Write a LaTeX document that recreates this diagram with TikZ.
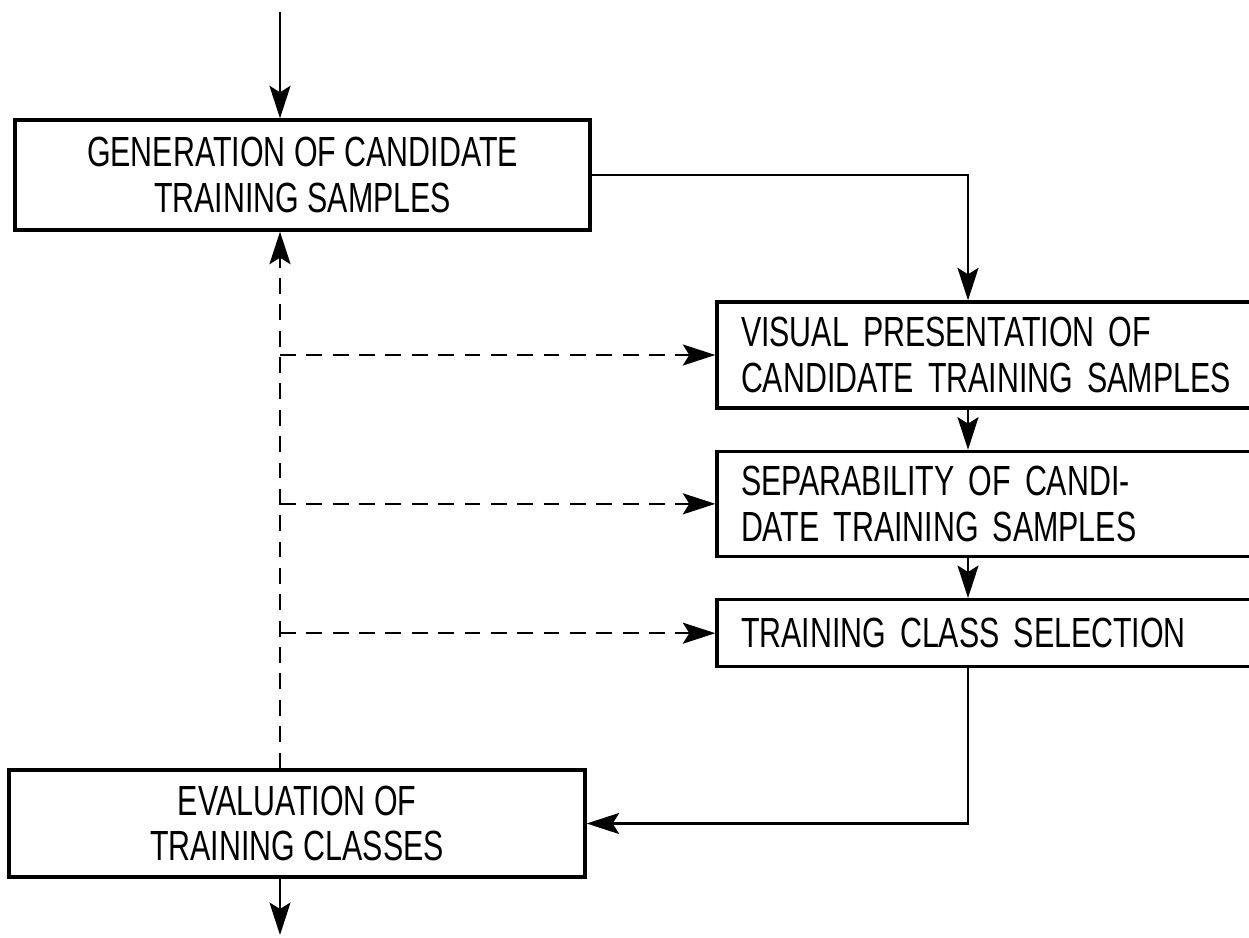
\documentclass[tikz,border=0pt]{standalone}
\usepackage{fontspec}
\setmainfont{Liberation Sans}[FakeStretch=0.72]
\usetikzlibrary{arrows.meta,positioning}

\begin{document}
\begin{tikzpicture}[->,>={Stealth[length=6.5mm,width=4.2mm,inset=1.3mm]},
                    node distance=0.8cm,line width=1.4pt,
                    font=\fontsize{24}{26}\selectfont]
  \tikzset{
    block/.style={draw,rectangle,line width=1.9pt,align=center,inner sep=0pt},
    sidebox/.style={block,text width=10.4cm,align=left,inner xsep=0.48cm},
    feedback/.style={dash pattern=on 9pt off 6pt}
  }
  \useasboundingbox (0,0) rectangle (24.98,-18.74);

  \node[block,minimum width=11.5cm,minimum height=2.2cm]  (gen)  at (6.05,-3.5)
        {GENERATION OF CANDIDATE\\TRAINING SAMPLES};
  \node[sidebox,minimum height=2.12cm] (vis)  at (20.02,-7.1)
        {VISUAL PRESENTATION OF\\CANDIDATE TRAINING SAMPLES};
  \node[sidebox,minimum height=2.1cm]  (sep)  [below=of vis]
        {SEPARABILITY OF CANDI-\\DATE TRAINING SAMPLES};
  \node[sidebox,minimum height=1.34cm] (sel)  [below=of sep]
        {TRAINING CLASS SELECTION};
  \node[block,minimum width=11.52cm,minimum height=2.14cm] (eval) at (5.94,-16.47)
        {EVALUATION OF\\TRAINING CLASSES};

  \coordinate (in)  at (5.6,-0.24);
  \coordinate (out) at (5.6,-18.7);
  \coordinate (col) at (19.36,0);

  % main flow
  \draw (in) -- (in |- gen.north);
  \draw (gen.east) -| (col |- vis.north);
  \draw (col |- vis.south) -- (col |- sep.north);
  \draw (col |- sep.south) -- (col |- sel.north);
  \draw (col |- sel.south) |- (eval.east);
  \draw (in |- eval.south) -- (out);

  % feedback paths
  \draw[feedback] (in |- eval.north) -- (in |- gen.south);
  \foreach \n in {vis,sep,sel}
    \draw[feedback] (in |- \n.west) -- (\n.west);
\end{tikzpicture}
\end{document}
